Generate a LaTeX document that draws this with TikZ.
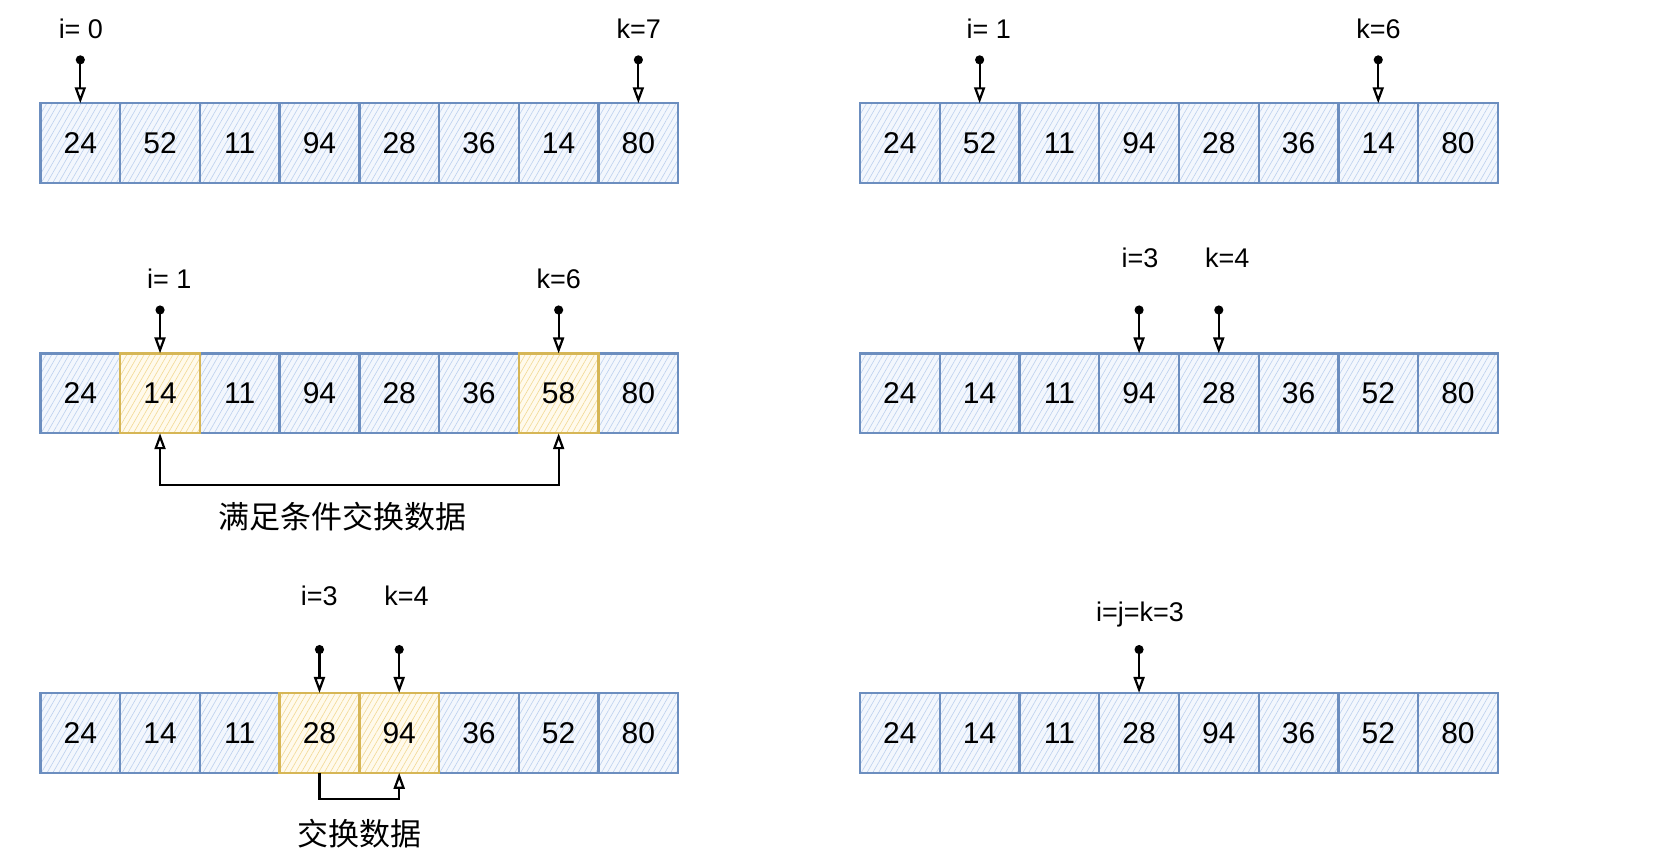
\documentclass[tikz,border=0pt]{standalone}
\usepackage{fontspec}
\setmainfont{Liberation Sans}
\newfontfamily\cjk{Noto Sans CJK SC}
\usetikzlibrary{arrows.meta,patterns.meta}
\definecolor{bstroke}{HTML}{6C8EBF}
\definecolor{bback}{HTML}{F3F7FD}
\definecolor{bhatch}{HTML}{BCD0EE}
\definecolor{ystroke}{HTML}{D6B656}
\definecolor{yback}{HTML}{FFFAEC}
\definecolor{yhatch}{HTML}{F2D994}
% #1 row name, #2 left x, #3 top y, #4 list of index/value/style
\newcommand\cellrow[4]{%
  \foreach \i/\v/\s in {#4} {
    \node[cell,\s] (#1\i) at ({#2+37.45+74.9*\i},{#3+37.5}) {\v};
  }}
\begin{document}
\begin{tikzpicture}[x=1.0644pt,y=-1.0644pt,
  cell/.style={rectangle,inner sep=0pt,outer sep=0pt,minimum width=79.7pt,minimum height=79.8pt,
    line width=2.3pt,font=\fontsize{30}{32}\selectfont},
  bluecell/.style={draw=bstroke,preaction={fill=bback},
    pattern={Lines[angle=60,distance=5pt,line width=0.6pt]},pattern color=bhatch},
  yelcell/.style={draw=ystroke,preaction={fill=yback},
    pattern={Lines[angle=60,distance=5pt,line width=0.6pt]},pattern color=yhatch},
  lbl/.style={font=\fontsize{27}{29}\selectfont,inner sep=0pt},
  cnlbl/.style={font=\cjk\fontsize{31}{33}\selectfont,inner sep=0pt},
  pointer/.style={draw=black,line width=2.2pt,
    {Circle[length=9pt]}-{Triangle[open,length=16pt,width=11pt]}},
  bothswap/.style={draw=black,line width=2.2pt,
    {Triangle[open,length=16pt,width=11pt]}-{Triangle[open,length=16pt,width=11pt]}},
  oneswap/.style={draw=black,line width=2.2pt,
    -{Triangle[open,length=16pt,width=11pt]}}]
\useasboundingbox (0,0) rectangle (1568,812);

% arrays
\cellrow{A}{38}{97}{0/24/bluecell,1/52/bluecell,2/11/bluecell,3/94/bluecell,4/28/bluecell,5/36/bluecell,6/14/bluecell,7/80/bluecell}
\cellrow{B}{808}{97}{0/24/bluecell,1/52/bluecell,2/11/bluecell,3/94/bluecell,4/28/bluecell,5/36/bluecell,6/14/bluecell,7/80/bluecell}
\cellrow{C}{38}{332}{0/24/bluecell,2/11/bluecell,3/94/bluecell,4/28/bluecell,5/36/bluecell,7/80/bluecell}
\cellrow{C}{38}{332}{1/14/yelcell,6/58/yelcell}
\cellrow{D}{808}{332}{0/24/bluecell,1/14/bluecell,2/11/bluecell,3/94/bluecell,4/28/bluecell,5/36/bluecell,6/52/bluecell,7/80/bluecell}
\cellrow{E}{38}{651}{0/24/bluecell,1/14/bluecell,2/11/bluecell,5/36/bluecell,6/52/bluecell,7/80/bluecell}
\cellrow{E}{38}{651}{3/28/yelcell,4/94/yelcell}
\cellrow{F}{808}{651}{0/24/bluecell,1/14/bluecell,2/11/bluecell,3/28/bluecell,4/94/bluecell,5/36/bluecell,6/52/bluecell,7/80/bluecell}

% pointer start points
\foreach \c in {A0,A7,B1,B6,C1,C6,D3,D4,E3,E4,F3} {
  \coordinate (p\c) at ([yshift=47.9pt]\c.north);
}

% labels
\node[lbl] (lA0) at (76,27) {i= 0};
\node[lbl] (lA7) at (600,27) {k=7};
\node[lbl] (lB1) at (929,27) {i= 1};
\node[lbl] (lB6) at (1295,27) {k=6};
\node[lbl] (lC1) at (159,262) {i= 1};
\node[lbl] (lC6) at (525,262) {k=6};
\node[lbl] (lD3) at (1071,242) {i=3};
\node[lbl] (lD4) at (1153,242) {k=4};
\node[lbl] (lE3) at (300,560) {i=3};
\node[lbl] (lE4) at (382,560) {k=4};
\node[lbl] (lF3) at (1071,577) {i=j=k=3};

% pointers
\foreach \c in {A0,A7,B1,B6,C1,C6,D3,D4,E3,E4,F3} {
  \draw[pointer] (p\c) -- (\c.north);
}

% swap connectors
\draw[bothswap] (C1.south) -- ++(0,49) -| (C6.south);
\draw[oneswap] (E3.south) -- ++(0,25) -| (E4.south);

\node[cnlbl] (t1) at (322,485) {满足条件交换数据};
\node[cnlbl] (t2) at (338,783) {交换数据};
\end{tikzpicture}
\end{document}
